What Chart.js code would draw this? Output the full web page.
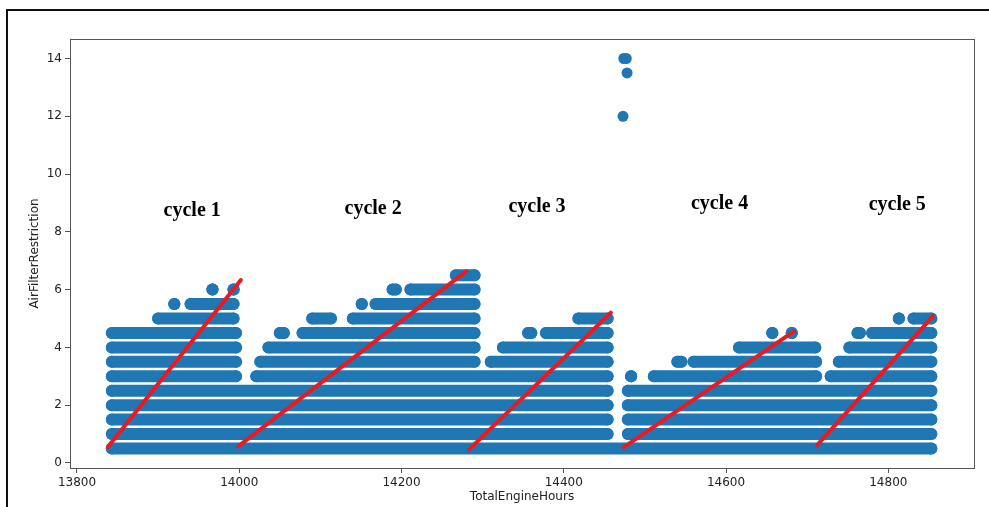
<!DOCTYPE html>
<html>
<head>
<meta charset="utf-8">
<script src="https://cdn.jsdelivr.net/npm/chart.js@4/dist/chart.umd.min.js"></script>
<style>
  html, body { margin: 0; padding: 0; background: #fff; }
  #wrap { width: 989px; height: 507px; position: relative; }
</style>
</head>
<body>
<div id="wrap"><canvas id="chart"></canvas></div>
<script>
// Axis ticks
const xTicks = [13800, 14000, 14200, 14400, 14600, 14800];
const yTicks = [0, 2, 4, 6, 8, 10, 12, 14];

// Horizontal runs of readings at each AirFilterRestriction level: [startHours, endHours]
const runs05 = [[13843, 14853]];
const runs10 = [[13843, 14454], [14479, 14853]];
const runs15 = [[13843, 14454], [14479, 14853]];
const runs20 = [[13843, 14454], [14479, 14853]];
const runs25 = [[13843, 14454], [14479, 14853]];
const runs30 = [[13843, 13996], [14021, 14454], [14483, 14483], [14511, 14711], [14729, 14853]];
const runs35 = [[13843, 13996], [14026, 14290], [14310, 14454], [14540, 14545], [14560, 14711], [14739, 14853]];
const runs40 = [[13843, 13996], [14036, 14290], [14325, 14454], [14616, 14710], [14752, 14853]];
const runs45 = [[13843, 13996], [14050, 14055], [14078, 14290], [14356, 14360], [14378, 14454],
                [14657, 14657], [14681, 14681], [14762, 14765], [14780, 14853]];
const runs50 = [[13900, 13993], [14090, 14113], [14140, 14290], [14418, 14454], [14813, 14813], [14831, 14853]];
const runs55 = [[13920, 13920], [13940, 13993], [14151, 14151], [14168, 14290]];
const runs60 = [[13967, 13967], [13993, 13993], [14189, 14193], [14211, 14290]];
const runs65 = [[14267, 14290]];

const levels = [0.5, 1, 1.5, 2, 2.5, 3, 3.5, 4, 4.5, 5, 5.5, 6, 6.5];
const levelRuns = [runs05, runs10, runs15, runs20, runs25, runs30, runs35, runs40, runs45, runs50, runs55, runs60, runs65];

// Spike readings near 14475 h
const spikeX = [14474, 14477, 14478, 14473];
const spikeY = [14, 14, 13.5, 12];

// Red trend line per cycle
const trendStart = [[13838, 0.55], [13999, 0.58], [14283, 0.46], [14474, 0.55], [14712, 0.61]];
const trendEnd = [[14002, 6.33], [14280, 6.64], [14458, 5.2], [14684, 4.56], [14855, 5.08]];

// Cycle annotations
const cycleNames = ['cycle 1', 'cycle 2', 'cycle 3', 'cycle 4', 'cycle 5'];
const cycleX = [13942, 14165, 14367, 14592, 14811];
const cycleY = [8.71, 8.81, 8.88, 8.98, 8.95];

const BLUE = '#1f77b4';
const RED = '#ea1a22';

// Build one line dataset for a level, gaps between runs
function bandDataset(y, runs) {
    const pts = [];
    runs.forEach(r => {
        pts.push({ x: r[0], y: y });
        pts.push({ x: r[1], y: y });
        pts.push({ x: r[1], y: null });
    });
    return {
        data: pts,
        showLine: true,
        spanGaps: false,
        borderColor: BLUE,
        backgroundColor: BLUE,
        borderWidth: 12,
        borderCapStyle: 'round',
        pointRadius: 6,
        pointBorderWidth: 0,
        order: 2
    };
}

const datasets = [];
levels.forEach((y, i) => datasets.push(bandDataset(y, levelRuns[i])));

datasets.push({
    data: spikeX.map((x, i) => ({ x: x, y: spikeY[i] })),
    backgroundColor: BLUE,
    pointRadius: 5.5,
    pointBorderWidth: 0,
    order: 2
});

trendStart.forEach((p, i) => {
    datasets.push({
        data: [{ x: p[0], y: p[1] }, { x: trendEnd[i][0], y: trendEnd[i][1] }],
        showLine: true,
        borderColor: RED,
        borderWidth: 4,
        borderCapStyle: 'round',
        pointRadius: 0,
        order: 0
    });
});

// White page with the outer frame, plus the plot box
const framePlugin = {
    id: 'frame',
    beforeDraw(chart) {
        const ctx = chart.ctx;
        ctx.save();
        ctx.fillStyle = '#fff';
        ctx.fillRect(0, 0, chart.width, chart.height);
        ctx.strokeStyle = '#111';
        ctx.lineWidth = 2;
        ctx.beginPath();
        ctx.moveTo(7, 507);
        ctx.lineTo(7, 10);
        ctx.lineTo(989, 10);
        ctx.stroke();
        ctx.restore();
    },
    afterDraw(chart) {
        const a = chart.chartArea;
        const ctx = chart.ctx;
        ctx.save();
        ctx.strokeStyle = '#555';
        ctx.lineWidth = 1;
        ctx.strokeRect(Math.round(a.left) + 0.5, Math.round(a.top) + 0.5,
            Math.round(a.right - a.left), Math.round(a.bottom - a.top));
        ctx.restore();
    }
};

const labelPlugin = {
    id: 'cycleLabels',
    afterDatasetsDraw(chart) {
        const ctx = chart.ctx;
        const xs = chart.scales.x;
        const ys = chart.scales.y;
        ctx.save();
        ctx.fillStyle = '#000';
        ctx.font = 'bold 20px "Liberation Serif", "Times New Roman", serif';
        ctx.textAlign = 'center';
        ctx.textBaseline = 'middle';
        cycleNames.forEach((name, i) => {
            ctx.fillText(name, xs.getPixelForValue(cycleX[i]), ys.getPixelForValue(cycleY[i]));
        });
        ctx.restore();
    }
};

const tickFont = { family: 'DejaVu Sans', size: 12 };

new Chart(document.getElementById('chart'), {
    type: 'scatter',
    data: { datasets: datasets },
    plugins: [framePlugin, labelPlugin],
    options: {
        responsive: true,
        maintainAspectRatio: false,
        animation: false,
        devicePixelRatio: 1,
        layout: { padding: { top: 39, right: 15, left: 0, bottom: 0 } },
        plugins: {
            legend: { display: false },
            tooltip: { enabled: false }
        },
        scales: {
            x: {
                type: 'linear',
                min: 13791.4,
                max: 14905.6,
                afterBuildTicks: s => { s.ticks = xTicks.map(v => ({ value: v })); },
                afterFit: s => { s.height = 39; s.paddingLeft = 0; s.paddingRight = 0; },
                grid: { drawOnChartArea: false, drawTicks: true, tickLength: 5, color: '#555' },
                border: { display: false },
                ticks: { color: '#222', font: tickFont, padding: 3, maxRotation: 0, autoSkip: false,
                         callback: v => String(v) },
                title: { display: true, text: 'TotalEngineHours', color: '#222', font: tickFont, padding: { top: 3, bottom: 3 } }
            },
            y: {
                type: 'linear',
                min: -0.175,
                max: 14.675,
                afterBuildTicks: s => { s.ticks = yTicks.map(v => ({ value: v })); },
                afterFit: s => { s.width = 70; s.paddingTop = 0; s.paddingBottom = 0; },
                grid: { drawOnChartArea: false, drawTicks: true, tickLength: 5, color: '#555' },
                border: { display: false },
                ticks: { color: '#222', font: tickFont, padding: 3, autoSkip: false,
                         callback: v => String(v) },
                title: { display: true, text: 'AirFilterRestriction', color: '#222', font: tickFont, padding: { top: 28, bottom: 28 } }
            }
        }
    }
});
</script>
</body>
</html>
